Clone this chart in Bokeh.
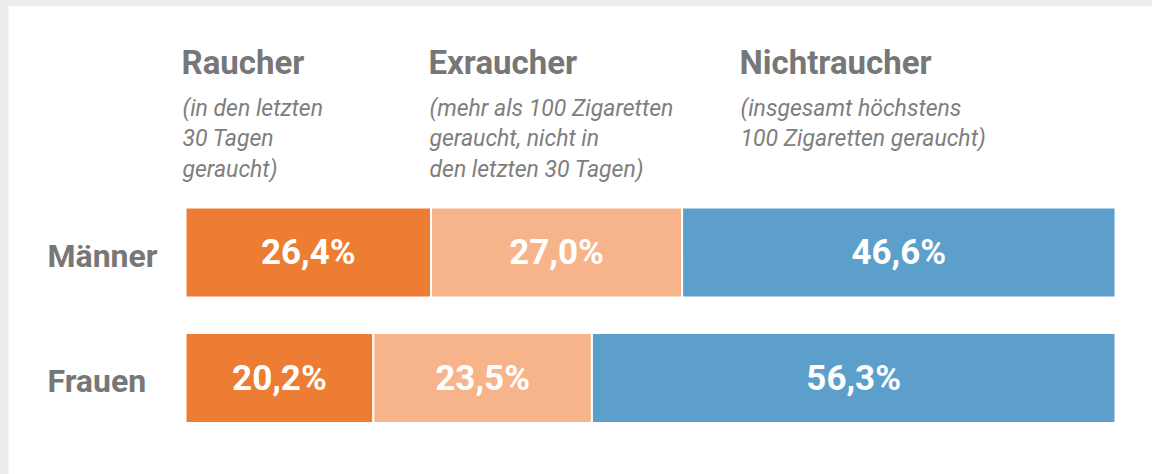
from bokeh.plotting import figure
from bokeh.models import Range1d, ColumnDataSource
from bokeh.embed import file_html
from bokeh.resources import INLINE
from bokeh.core.properties import value

# ---------------- data ----------------
groups = ["Männer", "Frauen"]
group_pos = [1, 0]
categories = ["Raucher", "Exraucher", "Nichtraucher"]
subtitles = [
    ["(in den letzten", "30 Tagen", "geraucht)"],
    ["(mehr als 100 Zigaretten", "geraucht, nicht in", "den letzten 30 Tagen)"],
    ["(insgesamt höchstens", "100 Zigaretten geraucht)"],
]
raucher = [26.4, 20.2]
exraucher = [27.0, 23.5]
nichtraucher = [46.6, 56.3]

# ---------------- styles / layout ----------------
colors = ["#EC7D32", "#F7B48A", "#5C9FCB"]
TITLE_GRAY = "#777777"
SUB_GRAY = "#7e7e7e"
FONT = "Roboto"

FIG_W, FIG_H = 1144, 468
PAGE_TOP, PAGE_LEFT = 6, 8
BAR_X0_PAGE = 185          # page x where 0 % sits
PX_PER_UNIT_X = 9.3        # 930 px for 100 %
ROW_PX = 125.5             # px per y unit
MAENNER_CENTER_PAGE = 252
BAR_H_PX = 90

def px(page_x):
    return (page_x - BAR_X0_PAGE) / PX_PER_UNIT_X

def py(page_y):
    return 1 + (MAENNER_CENTER_PAGE - page_y) / ROW_PX

x_start = px(PAGE_LEFT)
x_end = px(PAGE_LEFT + FIG_W)
y_end = py(PAGE_TOP)
y_start = py(PAGE_TOP + FIG_H)

p = figure(width=FIG_W, height=FIG_H, output_backend="svg", toolbar_location=None,
           x_range=Range1d(x_start, x_end), y_range=Range1d(y_start, y_end),
           x_axis_location=None, y_axis_location=None,
           min_border_left=0, min_border_right=0,
           min_border_top=0, min_border_bottom=0)
p.outline_line_color = None
p.grid.visible = False
p.background_fill_color = "white"
p.border_fill_color = "white"

# stacked bars
series = [raucher, exraucher, nichtraucher]
left = [0.0] * len(groups)
seg_x, seg_y, seg_txt = [], [], []
for vals, col in zip(series, colors):
    right = [l + v for l, v in zip(left, vals)]
    src = ColumnDataSource(dict(y=group_pos, left=left, right=right))
    p.hbar(y="y", left="left", right="right", height=BAR_H_PX / ROW_PX, source=src,
           fill_color=col, line_color="white", line_width=2)
    for l, r, yy, v in zip(left, right, group_pos, vals):
        seg_x.append((l + r) / 2)
        seg_y.append(yy)
        seg_txt.append(f"{v:.1f}".replace(".", ",") + "%")
    left = right

lab_src = ColumnDataSource(dict(x=seg_x, y=seg_y, t=seg_txt))
p.text(x="x", y="y", text="t", source=lab_src, text_color="white",
       text_font=value(FONT), text_font_style="bold", text_font_size="35px",
       text_align="center", text_baseline="alphabetic", y_offset=0)

# row labels (left aligned)
row_src = ColumnDataSource(dict(x=[px(47)] * len(groups), y=group_pos, t=groups))
p.text(x="x", y="y", text="t", source=row_src, text_color=TITLE_GRAY,
       text_font=value(FONT), text_font_style="bold", text_font_size="32px",
       text_align="left", text_baseline="alphabetic", y_offset=3)

# column headings
head_page_x = [181, 428, 739]
title_base_page = 62
sub_base_page = [108, 138, 169]
p.text(x=[px(v) for v in head_page_x], y=[py(title_base_page)] * 3, text=categories,
       text_color=TITLE_GRAY, text_font=value(FONT), text_font_style="bold",
       text_font_size="33px", text_baseline="alphabetic", text_align="left")

sx, sy, st = [], [], []
for hx, lines in zip(head_page_x, subtitles):
    for i, line in enumerate(lines):
        sx.append(px(hx + 1))
        sy.append(py(sub_base_page[i]))
        st.append(line)
p.text(x=sx, y=sy, text=st, text_color=SUB_GRAY, text_font=value(FONT),
       text_font_style="italic", text_font_size="23px",
       text_baseline="alphabetic", text_align="left")

html = file_html(p, INLINE, title="Raucher")
css = "<style>html,body{margin:0;padding:0;}body{margin:%dpx 0 0 %dpx !important;background:#eceeed;overflow:hidden;}</style>" % (PAGE_TOP, PAGE_LEFT)
if "</head>" in html:
    html = html.replace("</head>", css + "</head>", 1)
open("out.html", "w").write(html)
